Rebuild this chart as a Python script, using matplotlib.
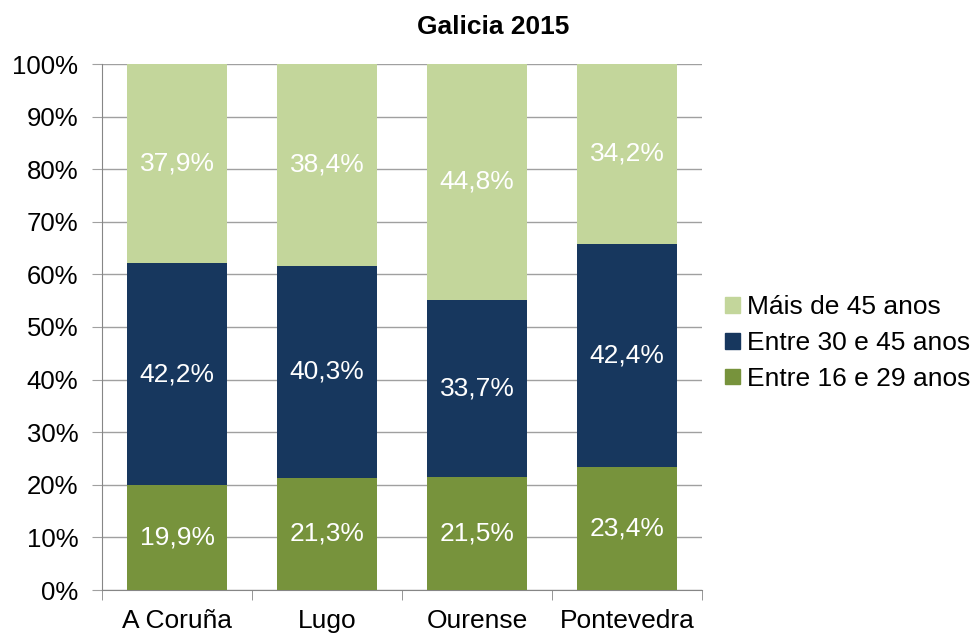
import numpy as np
import matplotlib.pyplot as plt
from matplotlib.patches import Patch

plt.rcParams['font.family'] = ['Liberation Sans', 'DejaVu Sans']

# datos
provincias = ["A Coruña", "Lugo", "Ourense", "Pontevedra"]
entre_16_29 = [19.9, 21.3, 21.5, 23.4]
entre_30_45 = [42.2, 40.3, 33.7, 42.4]
mais_45 = [37.9, 38.4, 44.8, 34.2]
series_nomes = ["Entre 16 e 29 anos", "Entre 30 e 45 anos", "Máis de 45 anos"]
cores = ["#77933C", "#17375E", "#C3D69B"]

fig = plt.figure(figsize=(9.77, 6.33), dpi=100)
ax = fig.add_axes([102/977, 1-590/633, 600/977, 526/633])

x = np.arange(len(provincias))
base = np.zeros(len(provincias))
for vals, cor in zip([entre_16_29, entre_30_45, mais_45], cores):
    vals = np.array(vals)
    ax.bar(x, vals, bottom=base, width=0.667, color=cor, zorder=3)
    for xi, b, v in zip(x, base, vals):
        ax.text(xi, b + v/2, f"{v:.1f}%".replace(".", ","), ha="center", va="center",
                color="white", fontsize=19, zorder=4)
    base = base + vals

ax.set_xlim(-0.5, 3.5)
ax.set_ylim(0, 100)
ax.set_yticks(np.arange(0, 101, 10))
ax.set_yticklabels([f"{v}%" for v in range(0, 101, 10)], fontsize=18.5)
ax.set_xticks(x)
ax.set_xticklabels(provincias, fontsize=19)
ax.set_xticks(np.arange(-0.5, 3.6, 1), minor=True)
ax.tick_params(axis="x", which="major", length=0, pad=14)
ax.tick_params(axis="x", which="minor", length=7, color="#868686")
ax.tick_params(axis="y", length=7, color="#A0A0A0", pad=10)
ax.yaxis.grid(True, color="#A0A0A0", linewidth=1, zorder=0)
for s in ["top", "right"]:
    ax.spines[s].set_visible(False)
for s in ["left", "bottom"]:
    ax.spines[s].set_color("#868686")

# título centrado na figura
fig.text(493/977, 1-27/633, "Galicia 2015", fontsize=19, fontweight="bold",
         ha="center", va="center")

handles = [Patch(color=c, label=n) for c, n in zip(cores, series_nomes)][::-1]
fig.legend(handles=handles, loc="center left", bbox_to_anchor=(725/977, 1-343/633),
           frameon=False, fontsize=19, handlelength=0.55, handleheight=0.55,
           handletextpad=0.3, labelspacing=0.45, borderaxespad=0, borderpad=0)

fig.savefig("out.png", dpi=100)
